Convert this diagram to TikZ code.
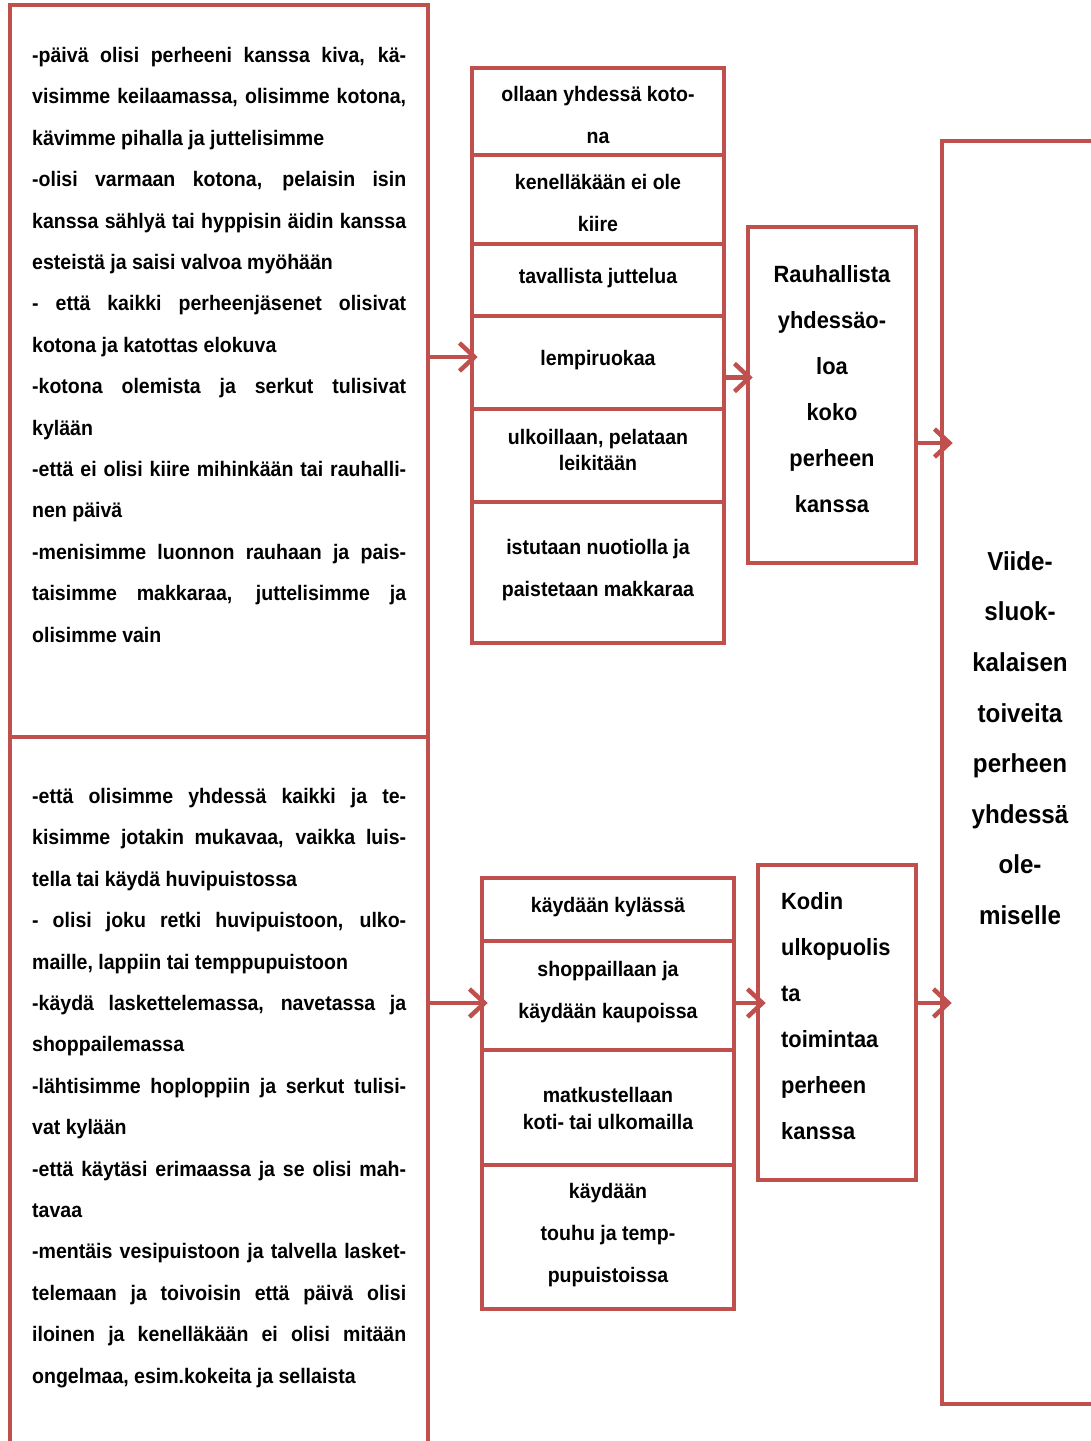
\documentclass[tikz,border=0pt]{standalone}
\usepackage{fontspec}
\setmainfont{Liberation Sans}[FakeStretch=0.93]
\usetikzlibrary{arrows.meta,calc}
\definecolor{boxred}{HTML}{C0504D}
\tolerance=10000
\emergencystretch=20pt
\begin{document}
\begin{tikzpicture}[x=1pt,y=-1pt,
  rbox/.style={draw=boxred, line width=4.5pt, inner sep=0pt},
  btxt/.style={inner sep=0pt, align=center, font=\fontsize{21}{42}\selectfont\bfseries},
  leftxt/.style={inner sep=0pt, anchor=north west, text width=374pt, align=justify,
    font=\fontsize{21}{41.4}\selectfont\bfseries},
  arr/.style={draw=boxred, line width=4.5pt, -{Straight Barb[length=15pt,width=28pt]}}]
\useasboundingbox (0,0) rectangle (1091,1441);
\begin{scope}
\clip (0,0) rectangle (1091,1441);
% left boxes
\node[rbox, minimum width=418pt, minimum height=732pt] (ltop) at (219,371) {};
\node[rbox, minimum width=418pt, minimum height=732pt] (lbot) at (219,1103) {};
\node[leftxt] (ltoptxt) at (32,47) {-päivä olisi perheeni kanssa kiva, kä-\linebreak
visimme keilaamassa, olisimme kotona,\linebreak
kävimme pihalla ja juttelisimme\\
-olisi varmaan kotona, pelaisin isin\linebreak
kanssa sählyä tai hyppisin äidin kanssa\linebreak
esteistä ja saisi valvoa myöhään\\
- että kaikki perheenjäsenet olisivat\linebreak
kotona ja katottas elokuva\\
-kotona olemista ja serkut tulisivat\linebreak
kylään\\
-että ei olisi kiire mihinkään tai rauhalli-\linebreak
nen päivä\\
-menisimme luonnon rauhaan ja pais-\linebreak
taisimme makkaraa, juttelisimme ja\linebreak
olisimme vain};
\node[leftxt] (lbottxt) at (32,788) {-että olisimme yhdessä kaikki ja te-\linebreak
kisimme jotakin mukavaa, vaikka luis-\linebreak
tella tai käydä huvipuistossa\\
- olisi joku retki huvipuistoon, ulko-\linebreak
maille, lappiin tai temppupuistoon\\
-käydä laskettelemassa, navetassa ja\linebreak
shoppailemassa\\
-lähtisimme hoploppiin ja serkut tulisi-\linebreak
vat kylään\\
-että käytäsi erimaassa ja se olisi mah-\linebreak
tavaa\\
-mentäis vesipuistoon ja talvella lasket-\linebreak
telemaan ja toivoisin että päivä olisi\linebreak
iloinen ja kenelläkään ei olisi mitään\linebreak
ongelmaa, esim.kokeita ja sellaista};
% middle top stack
\node[rbox, minimum width=252pt, minimum height=87pt] (m1) at (598,111.5) {};
\node[rbox, minimum width=252pt, minimum height=89pt] (m2) at (598,199.5) {};
\node[rbox, minimum width=252pt, minimum height=72pt] (m3) at (598,280) {};
\node[rbox, minimum width=252pt, minimum height=93pt] (m4) at (598,362.5) {};
\node[rbox, minimum width=252pt, minimum height=93pt] (m5) at (598,455.5) {};
\node[rbox, minimum width=252pt, minimum height=141pt] (m6) at (598,572.5) {};
\node[btxt] (m1t) at (598,115) {ollaan yhdessä koto-\\na};
\node[btxt] (m2t) at (598,203) {kenelläkään ei ole\\kiire};
\node[btxt] (m3t) at (598,278) {tavallista juttelua};
\node[btxt] (m4t) at (598,360) {lempiruokaa};
\node[btxt, font=\fontsize{21}{26}\selectfont\bfseries] (m5t) at (598,450) {ulkoillaan, pelataan\\leikitään};
\node[btxt] (m6t) at (598,570) {istutaan nuotiolla ja\\paistetaan makkaraa};
% middle bottom stack
\node[rbox, minimum width=252pt, minimum height=63pt] (b1) at (608,909.5) {};
\node[rbox, minimum width=252pt, minimum height=109pt] (b2) at (608,995.5) {};
\node[rbox, minimum width=252pt, minimum height=115pt] (b3) at (608,1107.5) {};
\node[rbox, minimum width=252pt, minimum height=144pt] (b4) at (608,1237) {};
\node[btxt] (b1t) at (608,907) {käydään kylässä};
\node[btxt] (b2t) at (608,992) {shoppaillaan ja\\käydään kaupoissa};
\node[btxt, font=\fontsize{21}{27}\selectfont\bfseries] (b3t) at (608,1108.5) {matkustellaan\\koti- tai ulkomailla};
\node[btxt] (b4t) at (608,1235.5) {käydään\\touhu ja temp-\\pupuistoissa};
% summary boxes
\node[rbox, minimum width=168pt, minimum height=336pt] (rauh) at (832,395) {};
\node[btxt, font=\fontsize{23.5}{46}\selectfont\bfseries] (rauht) at (832,389) {Rauhallista\\yhdessäo-\\loa\\koko\\perheen\\kanssa};
\node[rbox, minimum width=158pt, minimum height=315pt] (kodin) at (837,1022.5) {};
\node[btxt, anchor=west, align=left, font=\fontsize{23.5}{46}\selectfont\bfseries] (kodint) at (781,1016) {Kodin\\ulkopuolis\\ta\\toimintaa\\perheen\\kanssa};
% big box
\node[rbox, minimum width=168pt, minimum height=1263pt] (big) at (1026,772.5) {};
\node[btxt, font=\fontsize{26}{50.6}\selectfont\bfseries] (bigt) at (1020,738) {Viide-\\sluok-\\kalaisen\\toiveita\\perheen\\yhdessä\\ole-\\miselle};
% arrows
\draw[arr] ($(m4.west -| ltop.east)+(0,-5.5)$) -- ($(m4.west)+(8,-5.5)$);
\draw[arr] ($(m4.east)+(0,15)$) -- ($(m4.east -| rauh.west)+(7,15)$);
\draw[arr] ($(rauh.east)+(0,48)$) -- ($(rauh.east -| big.west)+(13,48)$);
\draw[arr] ($(b2.west -| lbot.east)+(0,7.5)$) -- ($(b2.west)+(8,7.5)$);
\draw[arr] ($(b2.east)+(0,7.5)$) -- ($(b2.east -| kodin.west)+(10,7.5)$);
\draw[arr] ($(kodin.east)+(0,-19.5)$) -- ($(kodin.east -| big.west)+(12,-19.5)$);
\end{scope}
\end{tikzpicture}
\end{document}
